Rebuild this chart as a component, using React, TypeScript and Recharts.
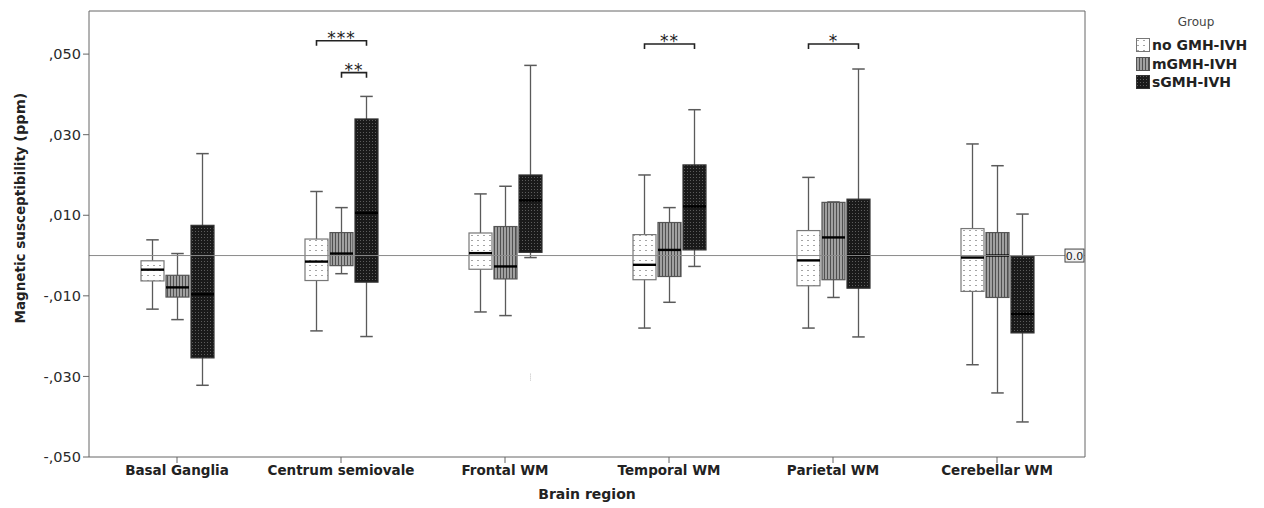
import React from 'react';
import { ComposedChart, Bar, XAxis, YAxis, ReferenceLine, Legend } from 'recharts';

const FONT = '"DejaVu Sans", Verdana, sans-serif';

const regions = ['Basal Ganglia', 'Centrum semiovale', 'Frontal WM', 'Temporal WM', 'Parietal WM', 'Cerebellar WM'];

// five-number summaries per region: [min, q1, median, q3, max]
const noGmhIvh = [
  [-0.0133, -0.0063, -0.0035, -0.0013, 0.0039],
  [-0.0187, -0.0062, -0.0015, 0.0041, 0.0159],
  [-0.014, -0.0034, 0.0006, 0.0056, 0.0153],
  [-0.018, -0.006, -0.0023, 0.0052, 0.02],
  [-0.018, -0.0075, -0.0012, 0.0062, 0.0194],
  [-0.0271, -0.0089, -0.0005, 0.0067, 0.0277],
];
const mGmhIvh = [
  [-0.0159, -0.0103, -0.0079, -0.0049, 0.0005],
  [-0.0045, -0.0025, 0.0005, 0.0057, 0.0119],
  [-0.0149, -0.0058, -0.0027, 0.0072, 0.0172],
  [-0.0116, -0.0052, 0.0014, 0.0082, 0.0119],
  [-0.0104, -0.006, 0.0045, 0.0132, 0.0133],
  [-0.0341, -0.0104, 0.0, 0.0057, 0.0223],
];
const sGmhIvh = [
  [-0.0322, -0.0254, -0.0096, 0.0075, 0.0253],
  [-0.0201, -0.0066, 0.0106, 0.0339, 0.0395],
  [-0.0005, 0.0008, 0.0137, 0.02, 0.0472],
  [-0.0027, 0.0014, 0.0122, 0.0225, 0.0362],
  [-0.0202, -0.0081, 0.0, 0.014, 0.0463],
  [-0.0413, -0.0192, -0.0145, -0.0002, 0.0103],
];
const sOutliers = [[], [], [-0.0303], [], [], []];

// significance brackets (both end at the sGMH-IVH box)
const sigNoVsS = ['', '***', '', '**', '*', ''];
const sigNoVsSLevel = [null, 0.0533, null, 0.0525, 0.0525, null];
const sigMVsS = ['', '**', '', '', '', ''];
const sigMVsSLevel = [null, 0.0454, null, null, null, null];

const yTicks = [-0.05, -0.03, -0.01, 0.01, 0.03, 0.05];
const yDomain = [-0.05, 0.0607];

const data = regions.map((region, i) => ({
  region,
  noRange: [noGmhIvh[i][0], noGmhIvh[i][4]],
  mRange: [mGmhIvh[i][0], mGmhIvh[i][4]],
  sRange: [sGmhIvh[i][0], sGmhIvh[i][4]],
  noStats: noGmhIvh[i],
  mStats: mGmhIvh[i],
  sStats: sGmhIvh[i],
  sOut: sOutliers[i],
  sigA: sigNoVsS[i],
  sigALevel: sigNoVsSLevel[i],
  sigB: sigMVsS[i],
  sigBLevel: sigMVsSLevel[i],
}));

const BOX_W = 23;
const BOX_GAP = 2;
const BRACKET_DROP = 0.00125;

const looks: Record<string, { fill: string; stroke: string }> = {
  no: { fill: 'url(#pNo)', stroke: '#777' },
  m: { fill: 'url(#pM)', stroke: '#555' },
  s: { fill: 'url(#pS)', stroke: '#333' },
};

const legendItems = [
  { label: 'no GMH-IVH', look: looks.no },
  { label: 'mGMH-IVH', look: looks.m },
  { label: 'sGMH-IVH', look: looks.s },
];

const fmtTick = (v: number) => (v < 0 ? '-' : '') + ',' + Math.abs(v).toFixed(3).slice(2);

const BoxGlyph = (props: any) => {
  const { x, y, width, height, payload, statsKey, look, withBrackets } = props;
  const [mn, q1, md, q3, mx] = payload[statsKey] as number[];
  const top = Math.min(y, y + height);
  const k = Math.abs(height) / (mx - mn || 1);
  const py = (v: number) => top + (mx - v) * k;
  const cx = x + width / 2;
  const cap = width / 4 + 0.5;

  const bracket = (fromCx: number, level: number | null, label: string) => {
    if (level == null || !label) return null;
    const yb = py(level);
    const yt = py(level - BRACKET_DROP);
    return (
      <g>
        <path d={`M${fromCx},${yt} V${yb} H${cx} V${yt}`} fill="none" stroke="#222" strokeWidth={1.6} />
        <text x={(fromCx + cx) / 2} y={yb + 3} textAnchor="middle" fontSize={17} fontFamily={FONT} fill="#222" letterSpacing={1}>
          {label}
        </text>
      </g>
    );
  };

  return (
    <g>
      <line x1={cx} x2={cx} y1={py(mx)} y2={py(mn)} stroke="#5a5a5a" strokeWidth={1.3} />
      <line x1={cx - cap} x2={cx + cap} y1={py(mx)} y2={py(mx)} stroke="#5a5a5a" strokeWidth={1.5} />
      <line x1={cx - cap} x2={cx + cap} y1={py(mn)} y2={py(mn)} stroke="#5a5a5a" strokeWidth={1.5} />
      <rect x={x} y={py(q3)} width={width} height={py(q1) - py(q3)} fill={look.fill} stroke={look.stroke} strokeWidth={1.2} />
      <line x1={x} x2={x + width} y1={py(md)} y2={py(md)} stroke="#000" strokeWidth={2.4} />
      {withBrackets &&
        (payload.sOut as number[]).map((v, i) => (
          <line key={i} x1={cx} x2={cx} y1={py(v) - 4} y2={py(v) + 4} stroke="#c0c0c0" strokeWidth={1} strokeDasharray="1 1" />
        ))}
      {withBrackets && bracket(cx - 2 * (width + BOX_GAP), payload.sigALevel, payload.sigA)}
      {withBrackets && bracket(cx - (width + BOX_GAP), payload.sigBLevel, payload.sigB)}
    </g>
  );
};

const ZeroTag = (props: any) => {
  const vb = props.viewBox;
  const xr = vb.x + vb.width;
  return (
    <g>
      <rect x={xr - 20} y={vb.y - 6.5} width={19} height={13} fill="#f2f2f2" stroke="#444" strokeWidth={1} />
      <text x={xr - 10.5} y={vb.y + 4} textAnchor="middle" fontSize={11} fontFamily={FONT} fill="#222">0.0</text>
    </g>
  );
};

const YTitle = (props: any) => {
  const vb = props.viewBox;
  const cx = vb.x + 12;
  const cy = vb.y + vb.height / 2 - 26;
  return (
    <text x={cx} y={cy} transform={`rotate(-90 ${cx} ${cy})`} textAnchor="middle" dominantBaseline="central" fontFamily={FONT} fontSize={13.5} fontWeight="bold" fill="#222">
      Magnetic susceptibility <tspan fontSize={14.5}>(ppm)</tspan>
    </text>
  );
};

const GroupLegend = () => (
  <div style={{ fontFamily: FONT, width: 120 }}>
    <div style={{ textAlign: 'center', fontSize: 12, color: '#444', height: 18, lineHeight: '18px' }}>Group</div>
    <div style={{ height: 5 }} />
    {legendItems.map((it) => (
      <div key={it.label} style={{ display: 'flex', alignItems: 'center', height: 18.5 }}>
        <svg width={15} height={14} style={{ flex: 'none' }}>
          <rect x={0.5} y={0.5} width={13} height={13} fill={it.look.fill} stroke={it.look.stroke} />
        </svg>
        <span style={{ fontSize: 14, fontWeight: 'bold', color: '#222', marginLeft: 1, whiteSpace: 'nowrap' }}>{it.label}</span>
      </div>
    ))}
  </div>
);

export default function App() {
  return (
    <div style={{ width: 1256, height: 500 }}>
      <ComposedChart width={1256} height={500} data={data} barGap={BOX_GAP} margin={{ top: 2, right: 58, bottom: 7, left: 0 }}>
        <defs>
          <pattern id="pNo" width="6" height="5" patternUnits="userSpaceOnUse">
            <rect width="6" height="5" fill="#fff" />
            <rect x="1" y="2" width="2" height="1" fill="#a5a5a5" />
          </pattern>
          <pattern id="pM" width="3" height="4" patternUnits="userSpaceOnUse">
            <rect width="3" height="4" fill="#a0a0a0" />
            <rect x="0" width="1" height="4" fill="#505050" />
          </pattern>
          <pattern id="pS" width="3" height="3" patternUnits="userSpaceOnUse">
            <rect width="3" height="3" fill="#1a1a1a" />
            <rect x="1" y="1" width="1" height="1" fill="#5c5c5c" />
          </pattern>
        </defs>
        <XAxis
          dataKey="region"
          interval={0}
          padding={{ left: 6, right: 6 }}
          height={44}
          tickSize={6}
          axisLine={{ stroke: '#666' }}
          tickLine={{ stroke: '#666' }}
          tick={{ fontFamily: FONT, fontSize: 13.5, fontWeight: 'bold', fill: '#222' }}
          label={{ value: 'Brain region', position: 'insideBottom', offset: 2, fontFamily: FONT, fontSize: 14, fontWeight: 'bold', fill: '#222' }}
        />
        <XAxis xAxisId="frame" dataKey="region" orientation="top" height={1} tick={false} tickLine={false} axisLine={{ stroke: '#666' }} />
        <YAxis
          type="number"
          domain={yDomain}
          allowDataOverflow
          ticks={yTicks}
          tickFormatter={fmtTick}
          width={81}
          tickSize={6}
          axisLine={{ stroke: '#666' }}
          tickLine={{ stroke: '#666' }}
          tick={{ fontFamily: FONT, fontSize: 14.5, fill: '#2a2a2a' }}
          label={<YTitle />}
        />
        <YAxis yAxisId="frame" orientation="right" type="number" domain={yDomain} width={1} tick={false} tickLine={false} axisLine={{ stroke: '#666' }} />
        <Legend
          layout="vertical"
          align="right"
          verticalAlign="top"
          content={<GroupLegend />}
          wrapperStyle={{ left: 1128, top: 5, width: 120 }}
        />
        <Bar dataKey="noRange" barSize={BOX_W} legendType="none" isAnimationActive={false}
          shape={(p: any) => <BoxGlyph {...p} statsKey="noStats" look={looks.no} />} />
        <Bar dataKey="mRange" barSize={BOX_W} legendType="none" isAnimationActive={false}
          shape={(p: any) => <BoxGlyph {...p} statsKey="mStats" look={looks.m} />} />
        <Bar dataKey="sRange" barSize={BOX_W} legendType="none" isAnimationActive={false}
          shape={(p: any) => <BoxGlyph {...p} statsKey="sStats" look={looks.s} withBrackets />} />
        <ReferenceLine y={0} stroke="#8a8a8a" strokeWidth={1} label={<ZeroTag />} />
      </ComposedChart>
    </div>
  );
}
